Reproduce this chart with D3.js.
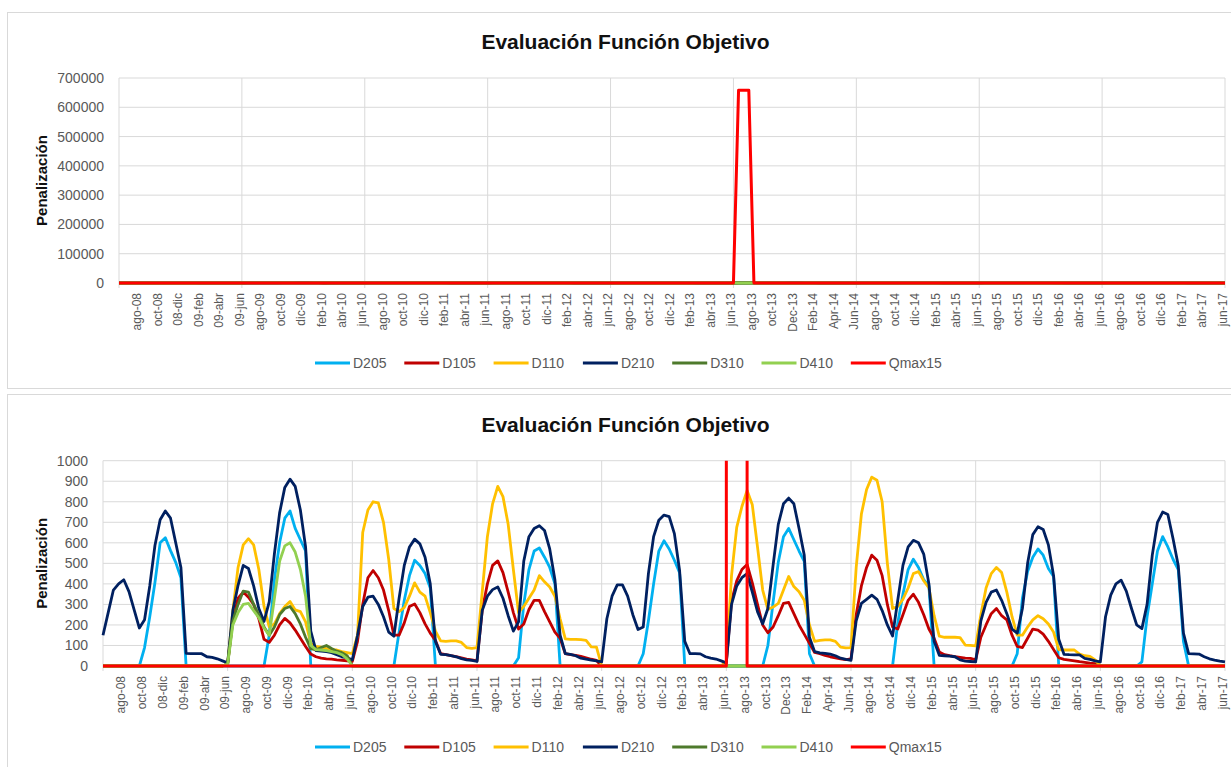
<!DOCTYPE html>
<html>
<head>
<meta charset="utf-8">
<script src="https://cdn.jsdelivr.net/npm/d3@7"></script>
<style>
  body { margin: 0; background: #fff; }
  text { font-family: "Liberation Sans", Arial, sans-serif; }
</style>
</head>
<body>
<script>
// etiquetas del eje x (cada 2 meses, desde ago-08 hasta jun-17)
var xLabels = ["ago-08","oct-08","08-dic","09-feb","09-abr","09-jun","ago-09","oct-09","dic-09","feb-10","abr-10","jun-10",
  "ago-10","oct-10","dic-10","feb-11","abr-11","jun-11","ago-11","oct-11","dic-11","feb-12","abr-12","jun-12",
  "ago-12","oct-12","dic-12","feb-13","abr-13","jun-13","ago-13","oct-13","Dec-13","Feb-14","Apr-14","Jun-14",
  "ago-14","oct-14","dic-14","feb-15","abr-15","jun-15","ago-15","oct-15","dic-15","feb-16","abr-16","jun-16",
  "ago-16","oct-16","dic-16","feb-17","abr-17","jun-17"];

// valores quincenales, jun-08 .. jun-17 (217 puntos)
var D205 = [
  0,0,0,0,0,0,0,0,90,240,407,600,625,562,505,430,0,0,0,0,0,0,0,0,
  0,0,0,0,0,0,0,0,150,420,600,720,755,670,615,560,0,0,0,0,0,0,0,0,
  0,0,0,0,0,0,0,0,0,165,320,440,515,490,450,380,0,0,0,0,0,0,0,0,
  0,0,0,0,0,0,0,0,40,300,470,560,575,530,480,400,0,0,0,0,0,0,0,0,
  0,0,0,0,0,0,0,0,60,220,400,560,610,570,515,455,0,0,0,0,0,0,0,0,
  0,0,0,0,0,0,0,0,100,310,505,630,670,615,560,510,60,0,0,0,0,0,0,0,
  0,0,0,0,0,0,0,0,0,210,350,470,520,480,420,390,0,0,0,0,0,0,0,0,
  0,0,0,0,0,0,0,0,60,330,460,530,570,540,475,436,0,0,0,0,0,0,0,0,
  0,0,0,0,0,0,0,0,20,240,400,560,630,580,520,470,120,0,0,0,0,0,0,0,
  0];
var D105 = [
  0,0,0,0,0,0,0,0,0,0,0,0,0,0,0,0,0,0,0,0,0,0,0,0,
  10,230,330,360,335,300,230,130,115,150,200,232,210,175,135,95,58,45,38,35,33,30,28,25,
  22,120,300,430,465,430,370,270,150,150,210,290,302,260,205,160,125,60,55,50,46,40,34,30,
  25,270,400,490,512,455,360,260,180,205,275,320,320,265,215,165,135,60,55,52,47,40,33,27,
  0,0,0,0,0,0,0,0,0,0,0,0,0,0,0,0,0,0,0,0,0,0,0,0,
  20,315,415,470,495,405,300,200,162,190,245,305,310,255,200,155,110,66,60,52,45,40,35,31,
  35,250,390,480,540,515,440,300,190,180,250,320,350,310,250,180,135,68,55,50,46,42,38,37,
  30,140,200,255,280,245,225,150,95,90,135,180,175,155,120,80,40,32,29,25,21,18,14,12,
  0,0,0,0,0,0,0,0,0,0,0,0,0,0,0,0,0,0,0,0,0,0,0,0,
  0];
var D110 = [
  0,0,0,0,0,0,0,0,0,0,0,0,0,0,0,0,0,0,0,0,0,0,0,0,
  10,270,480,590,620,590,470,290,190,205,255,290,314,273,265,215,110,95,92,85,80,78,70,65,
  60,150,650,760,800,795,700,520,280,265,285,340,405,360,340,260,170,122,120,122,122,115,90,86,
  90,360,630,790,875,825,690,470,260,290,330,370,440,410,385,340,230,132,130,130,128,125,93,92,
  0,0,0,0,0,0,0,0,0,0,0,0,0,0,0,0,0,0,0,0,0,0,0,0,
  20,440,675,777,855,785,580,370,275,287,305,370,436,387,362,320,200,120,125,127,127,120,92,88,
  90,480,740,860,920,905,800,500,280,290,325,380,450,460,415,380,245,145,140,140,140,138,102,100,
  98,250,380,450,480,455,360,240,150,150,190,225,245,230,205,165,80,78,78,78,58,50,47,30,
  0,0,0,0,0,0,0,0,0,0,0,0,0,0,0,0,0,0,0,0,0,0,0,0,
  0];
var D210 = [
  150,260,370,400,420,362,273,185,225,390,587,712,755,720,600,480,62,60,60,60,45,42,35,25,
  15,270,393,490,475,390,280,217,312,547,746,870,910,875,760,580,170,75,72,70,65,55,45,40,
  30,150,290,335,340,300,240,165,145,330,490,580,618,595,530,400,120,57,55,50,45,36,30,27,
  22,270,340,372,385,330,245,170,215,510,630,670,683,660,570,420,150,60,57,50,38,33,29,25,
  20,230,340,395,395,340,250,178,190,450,630,710,735,728,645,465,120,60,60,59,45,38,34,25,
  15,300,390,430,450,360,265,205,280,490,690,790,818,790,670,540,140,70,64,62,58,50,38,32,
  28,220,305,325,345,325,270,200,146,320,490,580,612,600,545,400,120,52,50,48,45,30,24,22,
  20,220,310,360,370,320,255,180,160,280,500,640,678,665,590,440,130,57,55,54,54,37,32,25,
  20,240,345,400,418,365,280,200,182,300,540,700,750,738,620,490,160,60,59,58,45,35,29,24,
  20];
var D310 = [
  0,0,0,0,0,0,0,0,0,0,0,0,0,0,0,0,0,0,0,0,0,0,0,0,
  10,220,300,365,360,300,250,190,150,190,250,280,290,255,205,140,85,78,90,100,85,72,65,50,
  0,0,0,0,0,0,0,0,0,0,0,0,0,0,0,0,0,0,0,0,0,0,0,0,
  0,0,0,0,0,0,0,0,0,0,0,0,0,0,0,0,0,0,0,0,0,0,0,0,
  0,0,0,0,0,0,0,0,0,0,0,0,0,0,0,0,0,0,0,0,0,0,0,0,
  0,0,0,0,0,0,0,0,0,0,0,0,0,0,0,0,0,0,0,0,0,0,0,0,
  0,0,0,0,0,0,0,0,0,0,0,0,0,0,0,0,0,0,0,0,0,0,0,0,
  0,0,0,0,0,0,0,0,0,0,0,0,0,0,0,0,0,0,0,0,0,0,0,0,
  0,0,0,0,0,0,0,0,0,0,0,0,0,0,0,0,0,0,0,0,0,0,0,0,
  0];
var D410 = [
  0,0,0,0,0,0,0,0,0,0,0,0,0,0,0,0,0,0,0,0,0,0,0,0,
  10,200,260,300,305,270,235,185,150,330,510,585,600,555,470,340,100,80,78,75,70,65,55,35,
  0,0,0,0,0,0,0,0,0,0,0,0,0,0,0,0,0,0,0,0,0,0,0,0,
  0,0,0,0,0,0,0,0,0,0,0,0,0,0,0,0,0,0,0,0,0,0,0,0,
  0,0,0,0,0,0,0,0,0,0,0,0,0,0,0,0,0,0,0,0,0,0,0,0,
  0,0,0,0,0,0,0,0,0,0,0,0,0,0,0,0,0,0,0,0,0,0,0,0,
  0,0,0,0,0,0,0,0,0,0,0,0,0,0,0,0,0,0,0,0,0,0,0,0,
  0,0,0,0,0,0,0,0,0,0,0,0,0,0,0,0,0,0,0,0,0,0,0,0,
  0,0,0,0,0,0,0,0,0,0,0,0,0,0,0,0,0,0,0,0,0,0,0,0,
  0];
var Qmax15 = [
  0,0,0,0,0,0,0,0,0,0,0,0,0,0,0,0,0,0,0,0,0,0,0,0,
  0,0,0,0,0,0,0,0,0,0,0,0,0,0,0,0,0,0,0,0,0,0,0,0,
  0,0,0,0,0,0,0,0,0,0,0,0,0,0,0,0,0,0,0,0,0,0,0,0,
  0,0,0,0,0,0,0,0,0,0,0,0,0,0,0,0,0,0,0,0,0,0,0,0,
  0,0,0,0,0,0,0,0,0,0,0,0,0,0,0,0,0,0,0,0,0,0,0,0,
  0,658000,658000,658000,0,0,0,0,0,0,0,0,0,0,0,0,0,0,0,0,0,0,0,0,
  0,0,0,0,0,0,0,0,0,0,0,0,0,0,0,0,0,0,0,0,0,0,0,0,
  0,0,0,0,0,0,0,0,0,0,0,0,0,0,0,0,0,0,0,0,0,0,0,0,
  0,0,0,0,0,0,0,0,0,0,0,0,0,0,0,0,0,0,0,0,0,0,0,0,
  0];

var seriesNames = ["D205","D105","D110","D210","D310","D410","Qmax15"];
var seriesColors = ["#00B0F0","#C00000","#FFC000","#002060","#4E7A2C","#92D050","#FF0000"];
var seriesValues = [D205, D105, D110, D210, D310, D410, Qmax15];

var topTicks = [0,100000,200000,300000,400000,500000,600000,700000];
var bottomTicks = [0,100,200,300,400,500,600,700,800,900,1000];

var W = 1231, H = 767;
var svg = d3.select("body").append("svg").attr("width", W).attr("height", H);

function chart(c) {
  var g = svg.append("g");
  // marco del grafico
  g.append("rect").attr("x", 7.5).attr("y", c.boxTop).attr("width", 1230).attr("height", c.boxH)
    .attr("fill", "#fff").attr("stroke", "#d9d9d9");

  var x = d3.scaleLinear().domain([0, 216]).range([c.left, 1225]);
  var y = d3.scaleLinear().domain([0, c.ticks[c.ticks.length - 1]]).range([c.bottom, c.top]);

  // grilla horizontal
  g.selectAll(".hg").data(c.ticks).enter().append("line")
    .attr("x1", c.left).attr("x2", 1225)
    .attr("y1", function(d){ return y(d); }).attr("y2", function(d){ return y(d); })
    .attr("stroke", "#d9d9d9").attr("stroke-width", 1);
  // grilla vertical (cada junio)
  g.selectAll(".vg").data(d3.range(0, 217, 24)).enter().append("line")
    .attr("x1", function(d){ return x(d); }).attr("x2", function(d){ return x(d); })
    .attr("y1", c.top).attr("y2", c.bottom + 5)
    .attr("stroke", "#d9d9d9").attr("stroke-width", 1);

  // eje y
  var ya = g.append("g").attr("transform", "translate(" + c.left + ",0)")
    .call(d3.axisLeft(y).tickValues(c.ticks).tickSize(0).tickPadding(15).tickFormat(d3.format("d")));
  ya.select(".domain").remove();
  ya.attr("font-size", 14).attr("font-family", null);
  ya.selectAll("text").attr("fill", "#595959");

  // eje x
  var xa = g.append("g").attr("transform", "translate(0," + c.bottom + ")")
    .call(d3.axisBottom(x).tickValues(d3.range(4, 217, 4)).tickSize(0)
      .tickFormat(function(k){ return xLabels[k / 4 - 1]; }));
  xa.select(".domain").remove();
  xa.attr("font-size", 12).attr("font-family", null);
  xa.selectAll("text").attr("fill", "#595959")
    .attr("transform", "rotate(-90)").attr("text-anchor", "end")
    .attr("x", -10).attr("y", 0).attr("dy", "0.1em");

  // lineas
  var clipId = "clip" + c.boxTop;
  svg.append("clipPath").attr("id", clipId).append("rect")
    .attr("x", c.left - 2).attr("y", c.top).attr("width", 1225 - c.left + 4).attr("height", c.bottom - c.top + 3);
  var line = d3.line().x(function(d, i){ return x(i); }).y(function(d){ return y(d); });
  g.append("g").attr("clip-path", "url(#" + clipId + ")")
    .selectAll("path").data(seriesValues).enter().append("path")
    .attr("d", line).attr("fill", "none")
    .attr("stroke", function(d, i){ return seriesColors[i]; })
    .attr("stroke-width", function(d, i){ return i == 6 ? 3 : 2.8; })
    .attr("stroke-linejoin", "round");

  // titulo
  g.append("text").attr("x", 625.5).attr("y", c.titleY).attr("dy", "0.35em")
    .attr("text-anchor", "middle").attr("font-size", 21).attr("font-weight", "bold")
    .attr("fill", "#111").text("Evaluación Función Objetivo");
  g.append("text").attr("transform", "translate(42," + (c.top + c.bottom) / 2 + ") rotate(-90)")
    .attr("text-anchor", "middle").attr("dy", "0.35em").attr("font-size", 15).attr("font-weight", "bold")
    .attr("fill", "#111").text("Penalización");

  // leyenda
  var lg = g.selectAll(".lg").data(seriesNames).enter().append("g")
    .attr("transform", function(d, i){ return "translate(" + (315 + i * 89.3) + "," + c.legendY + ")"; });
  lg.append("line").attr("x1", 0).attr("x2", 35)
    .attr("stroke", function(d, i){ return seriesColors[i]; }).attr("stroke-width", 3);
  lg.append("text").attr("x", 38).attr("dy", "0.35em").attr("font-size", 14)
    .attr("fill", "#595959").text(function(d){ return d; });
}

chart({boxTop: 12.5, boxH: 376, left: 119, top: 78, bottom: 283, ticks: topTicks, titleY: 42, legendY: 363});
chart({boxTop: 394.5, boxH: 380, left: 103, top: 460.7, bottom: 666, ticks: bottomTicks, titleY: 425, legendY: 747});
</script>
</body>
</html>
